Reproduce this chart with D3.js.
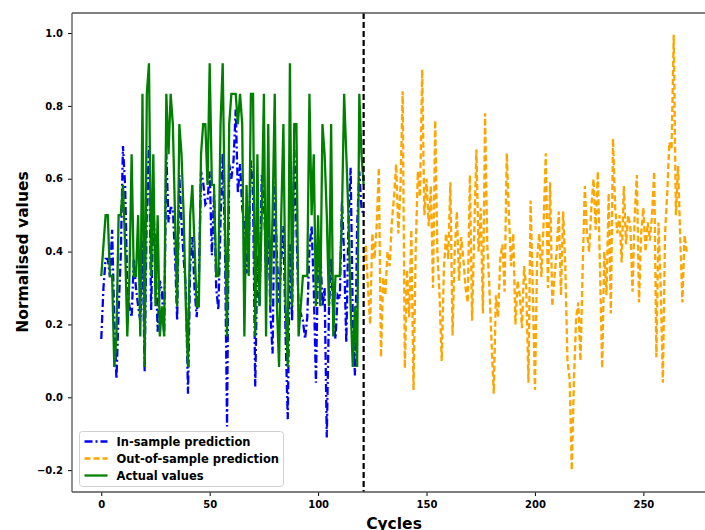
<!DOCTYPE html>
<html>
<head>
<meta charset="utf-8">
<script src="https://cdn.jsdelivr.net/npm/d3@7"></script>
<style>
  html, body { margin: 0; padding: 0; background: #fff; }
  svg { display: block; }
  text { font-family: "DejaVu Sans", sans-serif; font-weight: bold; }
</style>
</head>
<body>
<svg id="chart" width="705" height="530"></svg>
<script>
// Cycle index where the in-sample part ends and forecasting begins
const splitCycle = 121;

// Measured (normalised) values, cycles 0..121
const actualValues = [
  0.333, 0.417, 0.5, 0.5, 0.333, 0.333, 0.083, 0.167, 0.5, 0.5,
  0.583, 0.417, 0.167, 0.333, 0.667, 0.333, 0.333, 0.5, 0.167, 0.833,
  0.083, 0.833, 0.917, 0.333, 0.667, 0.25, 0.5, 0.167, 0.25, 0.167,
  0.833, 0.667, 0.833, 0.75, 0.5, 0.25, 0.75, 0.667, 0.5, 0.25,
  0.083, 0.5, 0.583, 0.417, 0.25, 0.25, 0.667, 0.75, 0.75, 0.583,
  0.917, 0.583, 0.583, 0.333, 0.333, 0.75, 0.917, 0.5, 0.167, 0.75,
  0.833, 0.833, 0.833, 0.75, 0.833, 0.75, 0.167, 0.583, 0.333, 0.833,
  0.833, 0.167, 0.667, 0.25, 0.5, 0.833, 0.167, 0.75, 0.25, 0.5,
  0.833, 0.25, 0.083, 0.5, 0.75, 0.25, 0.083, 0.917, 0.25, 0.75,
  0.75, 0.167, 0.25, 0.333, 0.333, 0.333, 0.833, 0.5, 0.667, 0.25,
  0.5, 0.25, 0.75, 0.667, 0.5, 0.25, 0.75, 0.167, 0.333, 0.333,
  0.333, 0.5, 0.833, 0.667, 0.5, 0.25, 0.083, 0.25, 0.083, 0.833,
  0.667, 0.583
];

// Model fit on the training cycles 0..121
const inSamplePrediction = [
  0.16, 0.30, 0.38, 0.38, 0.33, 0.46, 0.21, 0.05, 0.24, 0.39,
  0.69, 0.58, 0.30, 0.25, 0.22, 0.38, 0.30, 0.25, 0.21, 0.43,
  0.07, 0.52, 0.69, 0.24, 0.52, 0.39, 0.18, 0.32, 0.29, 0.17,
  0.67, 0.48, 0.52, 0.52, 0.39, 0.21, 0.61, 0.48, 0.38, 0.30,
  0.01, 0.36, 0.44, 0.30, 0.22, 0.32, 0.62, 0.59, 0.53, 0.54,
  0.62, 0.39, 0.56, 0.30, 0.24, 0.48, 0.67, 0.44, -0.08, 0.64,
  0.60, 0.65, 0.79, 0.56, 0.64, 0.52, 0.47, 0.34, 0.41, 0.65,
  0.56, 0.03, 0.39, 0.25, 0.61, 0.55, 0.33, 0.48, 0.23, 0.12,
  0.59, 0.39, 0.26, 0.38, 0.47, 0.17, -0.06, 0.42, 0.21, 0.69,
  0.47, 0.24, 0.23, 0.21, 0.16, 0.22, 0.41, 0.47, 0.30, 0.04,
  0.39, 0.41, 0.25, 0.30, -0.11, 0.24, 0.38, 0.23, 0.16, 0.28,
  0.27, 0.54, 0.39, 0.15, 0.48, 0.63, 0.21, 0.06, 0.47, 0.62,
  0.52, 0.50
];

// Forecast for cycles 121..270
const outOfSamplePrediction = [
  0.35, 0.42, 0.30, 0.20, 0.45, 0.38, 0.47, 0.63, 0.11, 0.33,
  0.28, 0.40, 0.36, 0.48, 0.55, 0.64, 0.45, 0.58, 0.84, 0.08,
  0.35, 0.22, 0.46, 0.02, 0.40, 0.62, 0.55, 0.90, 0.50, 0.60,
  0.47, 0.58, 0.30, 0.76, 0.40, 0.28, 0.10, 0.35, 0.45, 0.38,
  0.59, 0.17, 0.40, 0.51, 0.32, 0.44, 0.38, 0.30, 0.26, 0.61,
  0.21, 0.45, 0.68, 0.40, 0.52, 0.23, 0.78, 0.42, 0.30, 0.15,
  0.01, 0.28, 0.22, 0.38, 0.42, 0.29, 0.67, 0.50, 0.36, 0.45,
  0.20, 0.32, 0.28, 0.19, 0.36, 0.30, 0.04, 0.54, 0.30, 0.02,
  0.38, 0.45, 0.33, 0.48, 0.67, 0.30, 0.59, 0.25, 0.33, 0.40,
  0.51, 0.28, 0.51, 0.36, 0.10, 0.05, -0.20, 0.05, 0.22, 0.26,
  0.10, 0.35, 0.58, 0.45, 0.40, 0.52, 0.60, 0.46, 0.62, 0.35,
  0.08, 0.40, 0.28, 0.56, 0.23, 0.71, 0.52, 0.45, 0.50, 0.37,
  0.58, 0.42, 0.50, 0.47, 0.29, 0.50, 0.61, 0.26, 0.45, 0.52,
  0.40, 0.48, 0.43, 0.50, 0.62, 0.11, 0.48, 0.30, 0.04, 0.45,
  0.56, 0.70, 0.68, 0.995, 0.50, 0.635, 0.44, 0.26, 0.445, 0.40
];

const xTicks = [0, 50, 100, 150, 200, 250];
const yTicks = [-0.2, 0.0, 0.2, 0.4, 0.6, 0.8, 1.0];

const seriesNames = ["In-sample prediction", "Out-of-sample prediction", "Actual values"];
const seriesColors = ["#0000ff", "#ffa500", "#008000"];
const seriesDash = ["8,3,2,3", "6,3", null];

const svg = d3.select("#chart");
const W = 705, H = 530;
const plot = { left: 72, top: 13, bottom: 492, right: 716 };

svg.append("rect").attr("width", W).attr("height", H).attr("fill", "#fff");

const x = d3.scaleLinear().domain([-13.5, 283.5]).range([plot.left, plot.right]);
const y = d3.scaleLinear().domain([-0.26, 1.055]).range([plot.bottom, plot.top]);

const inSamplePts = inSamplePrediction.map((v, i) => [i, v]);
const actualPts = actualValues.map((v, i) => [i, v]);
const outPts = outOfSamplePrediction.map((v, i) => [splitCycle + i, v]);

const line = d3.line().x(d => x(d[0])).y(d => y(d[1]));

const g = svg.append("g");
svg.append("clipPath").attr("id", "plotClip")
  .append("rect").attr("x", plot.left).attr("y", plot.top)
  .attr("width", plot.right - plot.left).attr("height", plot.bottom - plot.top);
const marks = g.append("g").attr("clip-path", "url(#plotClip)");

marks.append("path").datum(inSamplePts)
  .attr("d", line).attr("fill", "none")
  .attr("stroke", seriesColors[0]).attr("stroke-width", 2.3)
  .attr("stroke-dasharray", seriesDash[0]);

marks.append("path").datum(outPts)
  .attr("d", line).attr("fill", "none")
  .attr("stroke", seriesColors[1]).attr("stroke-width", 2.3)
  .attr("stroke-dasharray", seriesDash[1]);

marks.append("path").datum(actualPts)
  .attr("d", line).attr("fill", "none")
  .attr("stroke", seriesColors[2]).attr("stroke-width", 2.3);

// Train / test boundary
marks.append("line")
  .attr("x1", x(splitCycle)).attr("x2", x(splitCycle))
  .attr("y1", plot.top).attr("y2", plot.bottom)
  .attr("stroke", "#000").attr("stroke-width", 2.2)
  .attr("stroke-dasharray", "6,3");

// Axes
const xAxis = d3.axisBottom(x).tickValues(xTicks).tickFormat(d3.format("d"))
  .tickSize(4).tickPadding(5);
const yAxis = d3.axisLeft(y).tickValues(yTicks)
  .tickFormat(d => d3.format(".1f")(d).replace("-", "\u2212"))
  .tickSize(4).tickPadding(5);

const gx = svg.append("g").attr("transform", `translate(0,${plot.bottom})`).call(xAxis);
const gy = svg.append("g").attr("transform", `translate(${plot.left},0)`).call(yAxis);
[gx, gy].forEach(a => {
  a.select(".domain").remove();
  a.selectAll(".tick line").attr("stroke", "#000").attr("stroke-width", 1);
  a.selectAll(".tick text").attr("font-size", 10).attr("fill", "#000")
    .attr("font-family", "DejaVu Sans").attr("font-weight", "bold");
});

// Frame
const frame = svg.append("g").attr("stroke", "#555").attr("stroke-width", 1.3).attr("fill", "none");
frame.append("line").attr("x1", plot.left).attr("x2", plot.right).attr("y1", plot.top).attr("y2", plot.top);
frame.append("line").attr("x1", plot.left).attr("x2", plot.right).attr("y1", plot.bottom).attr("y2", plot.bottom);
frame.append("line").attr("x1", plot.left).attr("x2", plot.left).attr("y1", plot.top).attr("y2", plot.bottom);

// Axis titles
svg.append("text").attr("x", 394).attr("y", 529)
  .attr("text-anchor", "middle").attr("font-size", 15.5).text("Cycles");
svg.append("text").attr("transform", `translate(23,252) rotate(-90)`)
  .attr("text-anchor", "middle").attr("dominant-baseline", "central")
  .attr("font-size", 15.5).text("Normalised values");

// Legend
const leg = svg.append("g").attr("transform", "translate(79.5,431.5)");
leg.append("rect").attr("width", 204).attr("height", 55).attr("rx", 3)
  .attr("fill", "#fff").attr("fill-opacity", 0.8)
  .attr("stroke", "#d0d0d0").attr("stroke-width", 1);
seriesNames.forEach((name, i) => {
  const cy = 10 + i * 17;
  leg.append("line").attr("x1", 5).attr("x2", 28).attr("y1", cy).attr("y2", cy)
    .attr("stroke", seriesColors[i]).attr("stroke-width", 2.3)
    .attr("stroke-dasharray", seriesDash[i]);
  leg.append("text").attr("x", 37).attr("y", cy).attr("dominant-baseline", "central")
    .attr("font-size", 11.5).text(name);
});
</script>
</body>
</html>
